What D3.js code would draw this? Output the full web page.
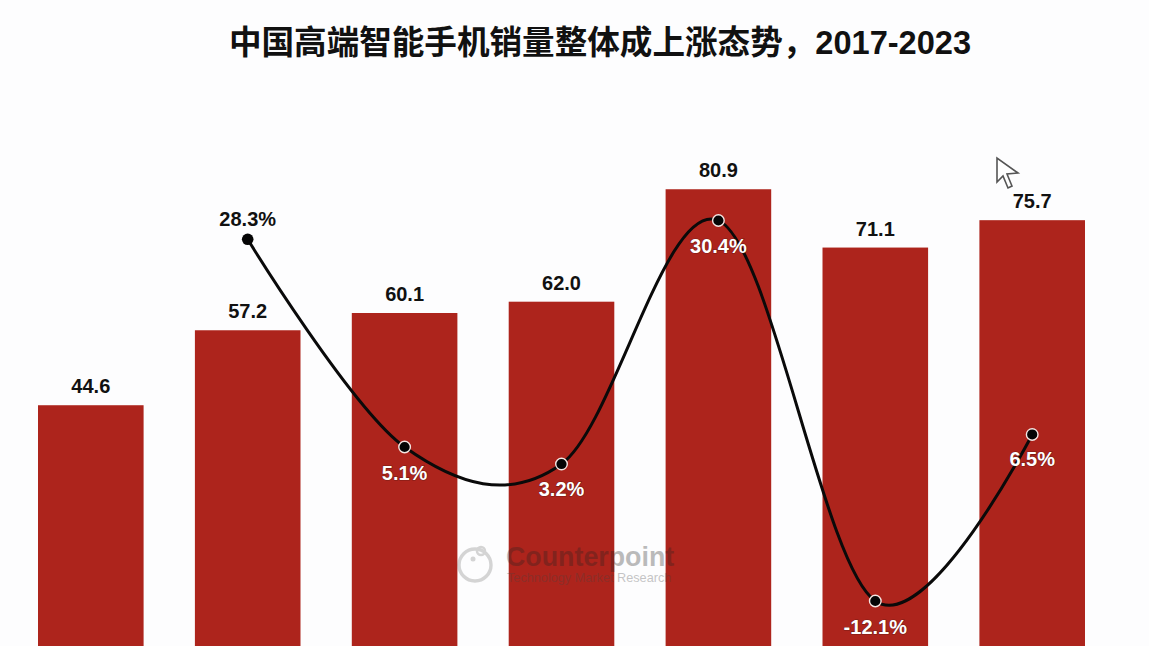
<!DOCTYPE html>
<html><head><meta charset="utf-8">
<script src="https://cdn.jsdelivr.net/npm/d3@7"></script>
<style>html,body{margin:0;padding:0;background:#fdfdfe;overflow:hidden}svg{display:block}
text{font-family:"Liberation Sans","Noto Sans CJK SC",sans-serif;font-weight:700}</style></head>
<body><svg id="c" width="1149" height="646"></svg>
<script>
const years=["2017","2018","2019","2020","2021","2022","2023"];
const sales=[44.6,57.2,60.1,62.0,80.9,71.1,75.7];
const growthYears=["2018","2019","2020","2021","2022","2023"];
const growth=[28.3,5.1,3.2,30.4,-12.1,6.5];
const titleText="中国高端智能手机销量整体成上涨态势，2017-2023";

const svg=d3.select("#c");
const x=d3.scaleBand().domain(years).range([38,1085]).paddingInner(0.327).paddingOuter(0);
const y=d3.scaleLinear().domain([0,100]).range([670.6,75.6]);
const yG=d3.scaleLinear().domain([-12.1,30.4]).range([601,220.5]);
const cx=d=>x(d)+x.bandwidth()/2;

svg.append("text").attr("x",600).attr("y",54).attr("text-anchor","middle")
  .attr("font-size",32.6).attr("fill","#111").text(titleText);

svg.selectAll("rect.bar").data(years).join("rect").attr("class","bar")
  .attr("x",d=>x(d)).attr("width",x.bandwidth())
  .attr("y",(d,i)=>y(sales[i])).attr("height",(d,i)=>y(0)-y(sales[i]))
  .attr("fill","#ad241c");

svg.selectAll("text.val").data(years).join("text").attr("class","val")
  .attr("x",cx).attr("y",(d,i)=>y(sales[i])-12).attr("text-anchor","middle")
  .attr("font-size",20).attr("fill","#111").text((d,i)=>sales[i].toFixed(1));

// watermark
const wm=svg.append("g").attr("opacity",0.3);
wm.append("circle").attr("cx",475).attr("cy",565).attr("r",16).attr("fill","none").attr("stroke","#777").attr("stroke-width",3.4);
wm.append("circle").attr("cx",473).attr("cy",559).attr("r",2.5).attr("fill","#777");
wm.append("circle").attr("cx",481).attr("cy",551).attr("r",4).attr("fill","none").attr("stroke","#777").attr("stroke-width",2.5);
wm.append("text").attr("x",506).attr("y",566).attr("font-size",26.8).attr("fill","#222").text("Counterpoint");
wm.append("text").attr("x",507).attr("y",582).attr("font-size",12.7).attr("fill","#444").attr("style","font-weight:400").text("Technology Market Research");

const line=d3.line().x((d,i)=>cx(growthYears[i])).y(d=>yG(d)).curve(d3.curveCatmullRom.alpha(0));
svg.append("path").attr("d",line(growth)).attr("fill","none").attr("stroke","#0a0a0a").attr("stroke-width",3);

svg.selectAll("circle.pt").data(growth).join("circle").attr("class","pt")
  .attr("cx",(d,i)=>cx(growthYears[i])).attr("cy",d=>yG(d)).attr("r",5.8)
  .attr("fill","#050505").attr("stroke",(d,i)=>i?"#f5e6e3":"none").attr("stroke-width",1.4);

const lblDy=[-13,33,32,32,33,32];
svg.selectAll("text.g").data(growth).join("text").attr("class","g")
  .attr("x",(d,i)=>cx(growthYears[i])).attr("y",(d,i)=>yG(d)+lblDy[i]).attr("text-anchor","middle")
  .attr("font-size",20).attr("fill",(d,i)=>i?"#fff":"#111")
  .attr("style",(d,i)=>i?"paint-order:stroke;stroke:#4a1410;stroke-width:1.2px;stroke-opacity:.55":null)
  .text(d=>d.toFixed(1)+"%");

// cursor
svg.append("path").attr("d","M997 158 L997 182 L1003 176 L1008 188 L1012 186 L1007 174 L1018 173 Z")
  .attr("fill","#fff").attr("stroke","#555").attr("stroke-width",1.6);
</script></body></html>
